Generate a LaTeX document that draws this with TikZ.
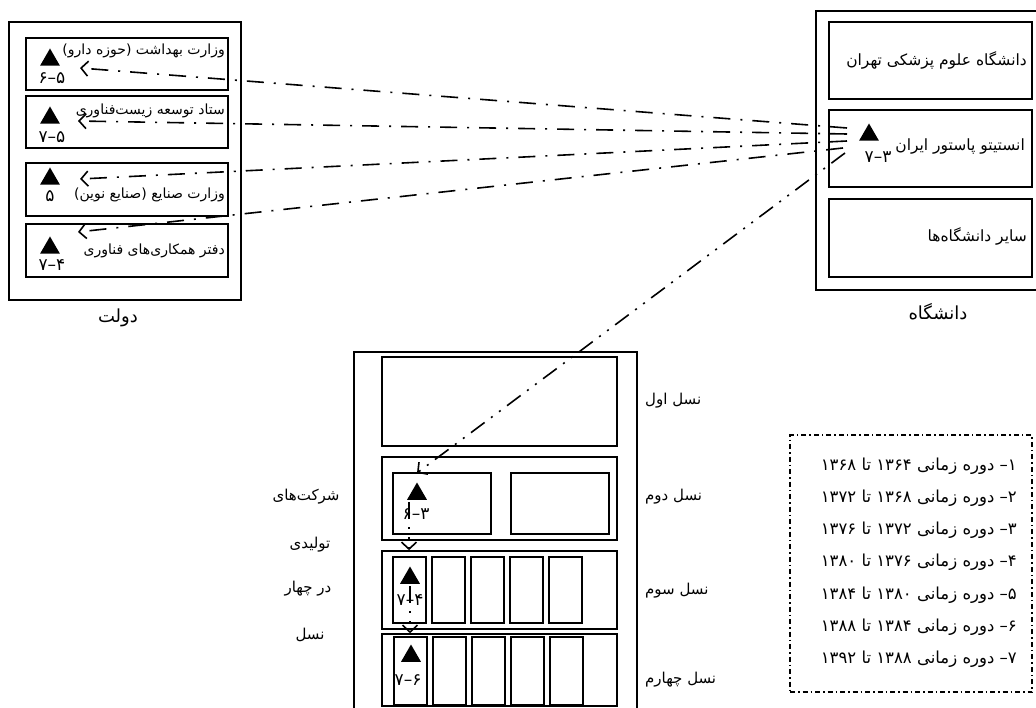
\documentclass[tikz,border=0pt]{standalone}
\usepackage{fontspec}
\newfontfamily\fa[Script=Arabic]{DejaVu Sans}
\TeXXeTstate=1
\usetikzlibrary{arrows.meta, shapes.geometric}
\newcommand\fatxt[1]{\fa\beginR #1\endR}

\begin{document}
\begin{tikzpicture}[x=1pt, y=-1pt,
    outer/.style={draw=black, line width=1.3pt, inner sep=0pt},
    cell/.style={draw=black, line width=1.6pt, inner sep=0pt},
    lbl/.style={font=\fa\fontsize{14}{16}\selectfont, inner sep=0pt},
    ulbl/.style={font=\fa\fontsize{15.5}{18}\selectfont, inner sep=0pt},
    capt/.style={font=\fa\fontsize{15}{17}\selectfont, inner sep=0pt},
    big/.style={font=\fa\fontsize{18}{20}\selectfont, inner sep=0pt},
    num/.style={font=\fa\fontsize{17}{19}\selectfont, inner sep=0pt},
    tri/.style={regular polygon, regular polygon sides=3, fill=black,
                inner sep=0pt, minimum size=23pt},
    arr/.style={line width=1.6pt, -{Straight Barb[length=7pt,width=15pt]},
                dash pattern=on 17pt off 10pt on 2pt off 10pt},
    arrr/.style={line width=1.6pt, -{Straight Barb[length=7pt,width=15pt]},
                dash pattern=on 17pt off 8pt on 2pt off 8pt on 2pt off 8pt},
  ]
    \useasboundingbox (0,0) rectangle (1036,708);

    % دولت
    \node[outer, minimum width=232pt, minimum height=278pt] (gov) at (125,161) {};
    \node[cell, minimum width=202pt, minimum height=52pt] (g1) at (127,64) {};
    \node[cell, minimum width=202pt, minimum height=52pt] (g2) at (127,122) {};
    \node[cell, minimum width=202pt, minimum height=53pt] (g3) at (127,189.5) {};
    \node[cell, minimum width=202pt, minimum height=53pt] (g4) at (127,250.5) {};
    \node[big] (govl) at (118,318) {\fatxt{دولت}};

    \node[lbl, anchor=east] (g1t) at (225,51) {\fatxt{وزارت بهداشت (حوزه دارو)}};
    \node[lbl, anchor=east] (g2t) at (225,111) {\fatxt{ستاد توسعه زیست‌فناوری}};
    \node[lbl, anchor=east] (g3t) at (225,195) {\fatxt{وزارت صنایع (صنایع نوین)}};
    \node[lbl, anchor=east] (g4t) at (225,251) {\fatxt{دفتر همکاری‌های فناوری}};

    \node[tri] (tg1) at (50,60) {};
    \node[tri] (tg2) at (50,118) {};
    \node[tri] (tg3) at (50,179) {};
    \node[tri] (tg4) at (50,248) {};
    \node[num] (ng1) at (52,78) {\fa ۵–۶};
    \node[num] (ng2) at (52,137) {\fa ۵–۷};
    \node[num] (ng3) at (50,196) {\fa ۵};
    \node[num] (ng4) at (52,265) {\fa ۴–۷};

    % دانشگاه
    \node[outer, minimum width=224pt, minimum height=279pt] (uni) at (928,150.5) {};
    \node[cell, minimum width=203pt, minimum height=77pt] (u1) at (930.5,60.5) {};
    \node[cell, minimum width=203pt, minimum height=77pt] (u2) at (930.5,148.5) {};
    \node[cell, minimum width=203pt, minimum height=78pt] (u3) at (930.5,238) {};
    \node[big] (unil) at (938,312) {\fatxt{دانشگاه}};

    \node[ulbl, anchor=east] (u1t) at (1027,60) {\fatxt{دانشگاه علوم پزشکی تهران}};
    \node[ulbl, anchor=east] (u2t) at (1025,147) {\fatxt{انستیتو پاستور ایران}};
    \node[ulbl, anchor=east] (u3t) at (1027,236) {\fatxt{سایر دانشگاه‌ها}};
    \node[tri] (tu2) at (869,135) {};
    \node[num] (nu2) at (878,157) {\fa ۳–۷};

    % شرکت‌ها در چهار نسل
    \node[outer, minimum width=283pt, minimum height=360pt] (firm) at (495.5,532) {};
    \node[cell, minimum width=235pt, minimum height=89pt] (r1) at (499.5,401.5) {};
    \node[cell, minimum width=235pt, minimum height=83pt] (r2) at (499.5,498.5) {};
    \node[cell, minimum width=235pt, minimum height=78pt] (r3) at (499.5,590) {};
    \node[cell, minimum width=235pt, minimum height=72pt] (r4) at (499.5,670) {};

    \node[cell, minimum width=98pt, minimum height=61pt] (c21) at (442,503.5) {};
    \node[cell, minimum width=98pt, minimum height=61pt] (c22) at (560,503.5) {};
    \foreach \i in {0,...,4} {
      \node[cell, minimum width=33pt, minimum height=66pt] (c3\i) at (409.5+39*\i,590) {};
      \node[cell, minimum width=33pt, minimum height=68pt] (c4\i) at (410.5+39*\i,671) {};
    }

    \node[tri] (tc2) at (417,494) {};
    \node[num] (nc2) at (416,514) {\fa ۳–۶};
    \node[tri] (tc3) at (410,578) {};
    \node[num] (nc3) at (410,600) {\fa ۴–۷};
    \node[tri] (tc4) at (411,656) {};
    \node[num] (nc4) at (408,680) {\fa ۶–۷};

    \node[capt, anchor=west] (n1) at (645,401) {\fatxt{نسل اول}};
    \node[capt, anchor=west] (n2) at (645,497) {\fatxt{نسل دوم}};
    \node[capt, anchor=west] (n3) at (645,591) {\fatxt{نسل سوم}};
    \node[capt, anchor=west] (n4) at (645,680) {\fatxt{نسل چهارم}};

    \node[capt] (f1) at (306,497) {\fatxt{شرکت‌های}};
    \node[capt] (f2) at (310,545) {\fatxt{تولیدی}};
    \node[capt] (f3) at (308,589) {\fatxt{در چهار}};
    \node[capt] (f4) at (310,635) {\fatxt{نسل}};

    % راهنما
    \node[draw=black, line width=1.2pt, dash pattern=on 5pt off 3pt on 1.5pt off 3pt,
          minimum width=242pt, minimum height=257pt] (leg) at (911,563.5) {};
    \foreach \a/\b/\c [count=\k from 0] in {۱/۱۳۶۴/۱۳۶۸, ۲/۱۳۶۸/۱۳۷۲, ۳/۱۳۷۲/۱۳۷۶,
        ۴/۱۳۷۶/۱۳۸۰, ۵/۱۳۸۰/۱۳۸۴, ۶/۱۳۸۴/۱۳۸۸, ۷/۱۳۸۸/۱۳۹۲}
      \node[font=\fa\fontsize{16.5}{19}\selectfont, inner sep=0pt, anchor=east] (l\k)
        at (1017,466+32.2*\k) {\fatxt{\a – دوره زمانی \b\ تا \c}};

    % پیکان‌ها
    \coordinate (p1) at (847,128);
    \coordinate (p2) at (847,134);
    \coordinate (p3) at (847,141);
    \coordinate (p4) at (843,148);
    \coordinate (p5) at (845,153);
    \coordinate (e1) at (80,68);
    \coordinate (e2) at (78,121);
    \coordinate (e3) at (80,179);
    \coordinate (e4) at (78,232);
    \coordinate (e5) at (417,473);
    \foreach \k in {1,...,4}
      \draw[arr] (p\k) -- (e\k);
    \draw[arrr] (p5) -- (e5);

    \coordinate (v1) at (409,502);
    \coordinate (v2) at (410,586);
    \draw[arrr] (v1) -- (r3.north -| v1);
    \draw[arrr] (v2) -- (r4.north -| v2);
  \end{tikzpicture}
\end{document}
